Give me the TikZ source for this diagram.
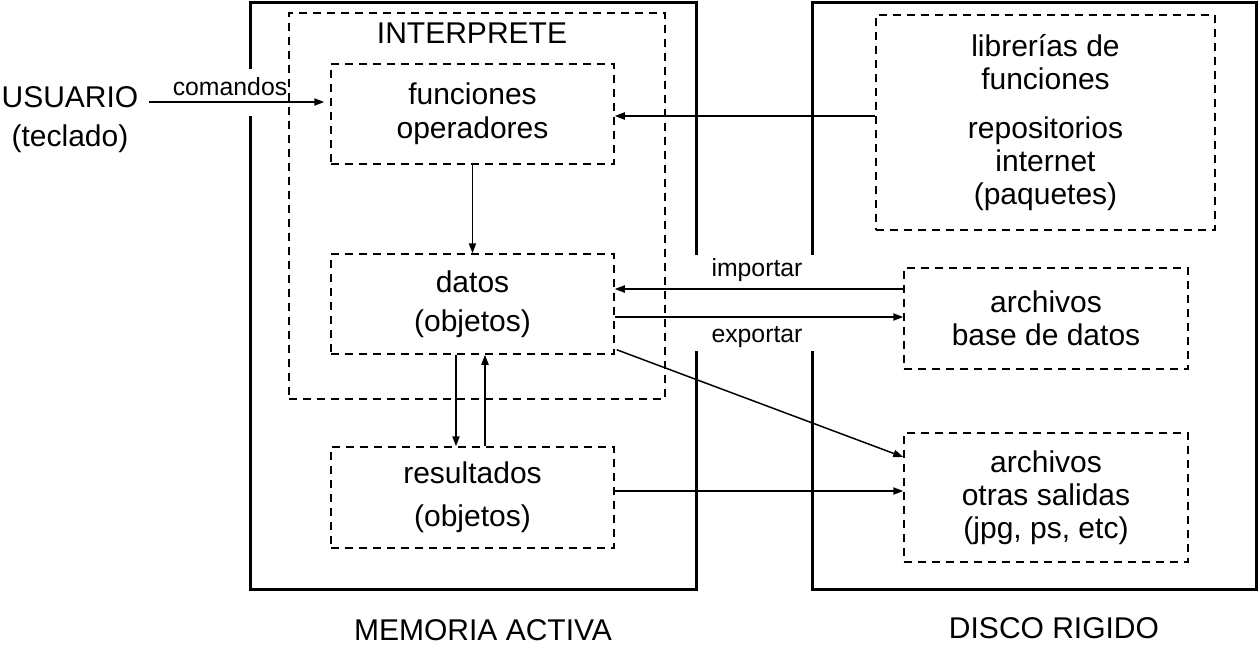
\documentclass[tikz,border=0pt]{standalone}
\usepackage{fontspec}
\setmainfont{Liberation Sans}
\usetikzlibrary{arrows.meta,calc}
\newcommand{\mainf}{\fontsize{15}{17}\selectfont}
\newcommand{\smallf}{\fontsize{12.4}{14}\selectfont}
\tikzset{
  dbox/.style={draw, dash pattern=on 4pt off 3pt, line width=0.75pt, inner sep=0pt, align=center, font=\mainf},
  frame/.style={line width=1.5pt, line cap=rect},
  arr/.style={line width=0.75pt, -{Triangle[length=5pt,width=3.6pt]}},
  txt/.style={inner sep=0pt, font=\mainf, align=center},
  stxt/.style={inner sep=0pt, font=\smallf}
}
\begin{document}
\begin{tikzpicture}[x=0.5pt,y=-0.5pt]
\useasboundingbox (0,0) rectangle (1260,645);
% solid frames
\draw[frame] (250,67) -- (250,2) -- (696,2) -- (696,253);
\draw[frame] (696,352) -- (696,589) -- (250,589) -- (250,117);
\draw[frame] (812,253) -- (812,2) -- (1256,2) -- (1256,589) -- (812,589) -- (812,352);
% dashed boxes
\node[dbox, minimum width=188pt, minimum height=193pt] (interp) at (477,206) {};
\node[txt] (interptxt) at (472,33) {INTERPRETE};
\node[dbox, minimum width=141.5pt, minimum height=50pt] (fun) at (472.5,114) {funciones\\operadores};
\node[dbox, minimum width=141.5pt, minimum height=50pt, font=\fontsize{15}{19.5}\selectfont] (dat) at (472.5,304) {datos\\(objetos)};
\node[dbox, minimum width=141.5pt, minimum height=50.5pt, font=\fontsize{15}{21.5}\selectfont] (res) at (472.5,497.5) {resultados\\(objetos)};
\node[dbox, minimum width=169.5pt, minimum height=107.5pt, font=\fontsize{15}{16.5}\selectfont] (lib) at (1045.5,122.5) {librerías de\\funciones\\[8pt]repositorios\\internet\\(paquetes)};
\node[dbox, minimum width=142pt, minimum height=50.5pt, font=\fontsize{15}{16.5}\selectfont] (bdd) at (1046,318.5) {archivos\\base de datos};
\node[dbox, minimum width=142pt, minimum height=64.5pt, font=\fontsize{15}{16.5}\selectfont] (otr) at (1046,497.5) {archivos\\otras salidas\\(jpg, ps, etc)};
% outside texts
\node[txt, font=\fontsize{15}{19.5}\selectfont] (usu) at (70,120) {USUARIO\\(teclado)};
\node[stxt] (com) at (230,87) {comandos};
\node[stxt] (imp) at (757,270) {importar};
\node[stxt] (exp) at (757,337) {exportar};
\node[txt] (mem) at (483,630) {MEMORIA ACTIVA};
\node[txt] (disco) at (1054,628) {DISCO RIGIDO};
% anchor helpers
\coordinate (funin) at ([yshift=6pt]fun.west);
\coordinate (libout) at ([yshift=3.25pt]lib.west);
\coordinate (bddout) at ([yshift=14.75pt]bdd.west);
\coordinate (bddin) at ([yshift=0.75pt]bdd.west);
\coordinate (resout) at ([yshift=3.25pt]res.east);
% connectors
\draw[arr, shorten >=3pt] ([xshift=5pt]usu.east |- funin) -- (funin);
\draw[arr] (fun.south) -- (dat.north);
\draw[arr] (libout) -- (fun.east |- libout);
\draw[arr] (bddout) -- (dat.east |- bddout);
\draw[arr] (dat.east |- bddin) -- (bddin);
\draw[arr] ([xshift=1pt,yshift=2.5pt]dat.south east) -- ([yshift=20.25pt]otr.west);
\draw[arr] ([xshift=-8.25pt]dat.south) -- ([xshift=-8.25pt]res.north);
\draw[arr] ([xshift=6.25pt]res.north) -- ([xshift=6.25pt]dat.south);
\draw[arr] (resout) -- (otr.west |- resout);
\end{tikzpicture}
\end{document}
